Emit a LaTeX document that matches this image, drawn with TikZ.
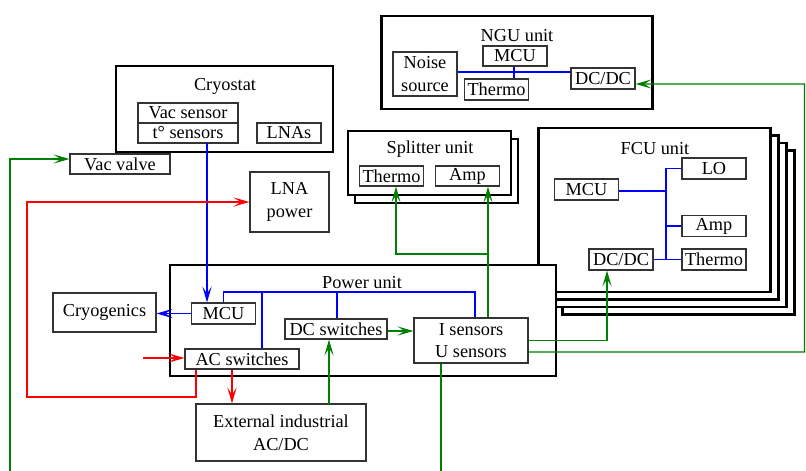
\documentclass[tikz,border=0pt]{standalone}
\usepackage{fontspec}
\setmainfont{Liberation Serif}
\usepackage{tikz}
\usetikzlibrary{positioning,arrows.meta,calc}
\definecolor{BusBlue}{RGB}{0,0,255}
\definecolor{PwrRed}{RGB}{255,0,0}
\definecolor{SigGreen}{RGB}{0,128,0}

\begin{document}
\begin{tikzpicture}[x=0.025cm, y=-0.025cm,
    blk/.style={rectangle, draw=black!80, line width=0.8pt, fill=white, inner sep=0pt,
        minimum width=1.6cm, minimum height=0.525cm, align=center, font=\fontsize{13}{16}\selectfont},
    unit/.style={rectangle, draw=black, line width=1.8pt, fill=white, inner sep=0pt},
    ttl/.style={inner sep=0pt, font=\fontsize{13}{16}\selectfont},
    bus/.style={BusBlue, line width=0.8pt},
    barr/.style={bus, -{Stealth[length=4mm, width=2.3mm, inset=1.8mm]}},
    gline/.style={SigGreen, line width=0.8pt},
    garr/.style={gline, -{Stealth[length=4mm, width=2.3mm, inset=1.8mm]}},
    rline/.style={PwrRed, line width=0.8pt},
    rarr/.style={rline, -{Stealth[length=4mm, width=2.3mm, inset=1.8mm]}},
]
\useasboundingbox (0,0) rectangle (806,471);
\clip (0,0) rectangle (806,471);

\node[unit, minimum width=5.425cm, minimum height=2.15cm] (cryo) at (224.5,109) {};
\node[ttl] (cryotitle) at (225,86) {Cryostat};
\node[blk, minimum width=2.5cm, minimum height=0.5cm] (vacsens) at (188,113) {Vac sensor};
\node[blk, minimum width=2.5cm, minimum height=0.5cm] (tsens) at (188,133) {t° sensors};
\node[blk, minimum height=0.5cm] (lnas) at (289,133) {LNAs};
\node[blk, minimum width=2.5cm, minimum height=0.5cm] (vacvalve) at (120,164) {Vac valve};
\node[blk, minimum width=1.975cm, minimum height=1.5cm] (lnapwr) at (289.5,202) {LNA\\power};

\node[unit, minimum width=6.775cm, minimum height=2.325cm] (ngu) at (517,62.5) {};
\node[ttl] (ngutitle) at (517,36) {NGU unit};
\node[blk, minimum height=0.5cm] (ngumcu) at (515,56) {MCU};
\node[blk, minimum height=1.1cm] (noise) at (425,74) {Noise\\source};
\node[blk] (ngutherm) at (496.5,89.5) {Thermo};
\node[blk] (ngudcdc) at (603,78.5) {DC/DC};

\node[unit, minimum width=4.075cm, minimum height=1.6cm] (spl1) at (436.5,171) {};
\node[unit, minimum width=4.075cm, minimum height=1.6cm] (spl) at (429.5,163) {};
\node[ttl] (spltitle) at (430,149) {Splitter unit};
\node[blk, minimum height=0.5cm] (splthermo) at (391.5,176) {Thermo};
\node[blk, minimum height=0.5cm] (splamp) at (467.5,176) {Amp};

\foreach \k in {3,2,1}
    \node[unit, minimum width=5.8cm, minimum height=4.1cm] (fcu\k) at (654.5+8*\k,210+7.5*\k) {};
\node[unit, minimum width=5.8cm, minimum height=4.1cm] (fcu) at (654.5,210) {};
\node[ttl] (fcutitle) at (655,149) {FCU unit};
\node[blk] (fcumcu) at (586.5,189.5) {MCU};
\node[blk] (fculo) at (714,168.5) {LO};
\node[blk] (fcuamp) at (714,226) {Amp};
\node[blk] (fcutherm) at (714,259.5) {Thermo};
\node[blk] (fcudcdc) at (621,259.5) {DC/DC};

\node[unit, minimum width=9.65cm, minimum height=2.775cm] (pwr) at (363,320.5) {};
\node[ttl] (pwrtitle) at (362,283) {Power unit};
\node[blk] (pmcu) at (223.5,313.5) {MCU};
\node[blk, minimum width=2.85cm, minimum height=0.5cm] (acsw) at (242,359) {AC switches};
\node[blk, minimum width=2.55cm, minimum height=0.5cm] (dcsw) at (336,329) {DC switches};
\node[blk, minimum width=2.85cm, minimum height=1.125cm] (sens) at (471,340.5) {I sensors\\U sensors};
\node[blk, minimum width=2.575cm, minimum height=0.975cm] (cryog) at (104.5,312.5) {Cryogenics};
\node[blk, minimum width=4.25cm, minimum height=1.425cm] (ext) at (281,432.5) {External industrial\\AC/DC};

\coordinate (ngubus) at (514,72);
\coordinate (fcubus) at (666,191);
\coordinate (pbusL) at (223.5,292);
\coordinate (pbusA) at (262,292);
\coordinate (pbusD) at (337,292);
\coordinate (pbusR) at (475,292);
\coordinate (tsdown) at (207,143);
\coordinate (gx1) at (329,404);
\coordinate (gx2) at (488,254);
\coordinate (gx3) at (396,254);
\coordinate (gr1) at (804.5,352);
\coordinate (gr2) at (804.5,84);
\coordinate (gb1) at (441,490);
\coordinate (gb2) at (10,490);
\coordinate (racx) at (232,380);
\coordinate (rl1) at (196,397);
\coordinate (rl2) at (27,397);
\coordinate (acin) at (143,358);

\draw[bus] (noise.east |- ngubus) -- (ngudcdc.west |- ngubus);
\draw[bus] (ngumcu.south -| ngubus) -- (ngutherm.north -| ngubus);

\draw[bus] (fculo.west) -- (fculo.west -| fcubus) -- (fcutherm.west -| fcubus);
\draw[bus] (fcumcu.east |- fcubus) -- (fcubus);
\draw[bus] (fcuamp.west) -- (fcuamp.west -| fcubus);
\draw[bus] (fcudcdc.east) -- (fcutherm.west);

\draw[bus] (pmcu.north) -- (pbusL) -- (pbusR) -- (pbusR |- sens.north);
\draw[bus] (pbusA) -- (pbusA |- acsw.north);
\draw[bus] (pbusD) -- (pbusD |- dcsw.north);
\draw[barr] (tsdown) -- (tsdown |- pmcu.north);
\draw[barr] (pmcu.west) -- (cryog.east |- pmcu.west);

\draw[garr] (gx1) -- (gx1 |- dcsw.south);
\draw[garr] ($(dcsw.east)+(0,2)$) -- ($(sens.west |- dcsw.east)+(0,2)$);
\draw[garr] (sens.north -| gx2) -- (splamp.south -| gx2);
\draw[garr] (gx2) -- (gx3) -- (splthermo.south -| gx3);
\draw[garr] (sens.east) -| ($(fcudcdc.south)+(-14,0)$);
\draw[garr] ($(sens.east)+(0,11.5)$) -- (gr1) -- (gr2) -- (ngudcdc.east |- gr2);
\draw[garr] (sens.south -| gb1) -- (gb1) -- (gb2) |- ($(vacvalve.west)+(0,-5)$);

\draw[rarr] (acin) -- (acin -| acsw.west);
\draw[rarr] (acsw.south -| racx) -- (ext.north -| racx);
\draw[rarr] (acsw.south -| rl1) -- (rl1) -- (rl2) |- (lnapwr.west);
\end{tikzpicture}
\end{document}
